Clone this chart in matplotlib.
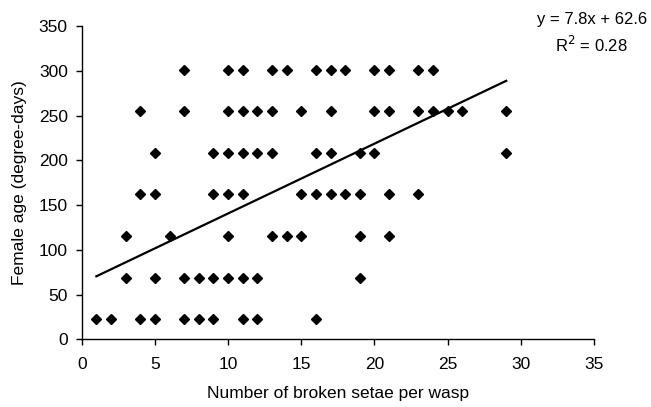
import matplotlib
matplotlib.use("Agg")
import matplotlib.pyplot as plt
import numpy as np

plt.rcParams['font.family'] = ['Liberation Sans', 'DejaVu Sans']

# Age levels (degree-days)
age_301 = [7, 10, 11, 13, 14, 16, 17, 18, 20, 21, 23, 24]
age_255 = [4, 7, 10, 11, 12, 13, 15, 17, 20, 21, 23, 24, 25, 26, 29]
age_208 = [5, 9, 10, 11, 12, 13, 16, 17, 19, 20, 29]
age_162 = [4, 5, 9, 10, 11, 15, 16, 17, 18, 19, 21, 23]
age_115 = [3, 6, 10, 13, 14, 15, 19, 21]
age_69 = [3, 5, 7, 8, 9, 10, 11, 12, 19]
age_23 = [1, 2, 4, 5, 7, 8, 9, 11, 12, 16]

levels = [301, 255, 208, 162, 115, 69, 23]
groups = [age_301, age_255, age_208, age_162, age_115, age_69, age_23]

setae = []
age = []
for lvl, xs in zip(levels, groups):
    setae += xs
    age += [lvl] * len(xs)

slope = 7.8
intercept = 62.6
r2 = 0.28
fit_range = [1, 29]

xticks = [0, 5, 10, 15, 20, 25, 30, 35]
yticks = [0, 50, 100, 150, 200, 250, 300, 350]

fig = plt.figure(figsize=(6.51, 4.07), dpi=100)
ax = fig.add_axes([0.1255, 0.1663, 0.787, 0.7697])

ax.plot(setae, age, linestyle='none', marker='D', markersize=5.0,
        color='black', zorder=3)
fx = np.array(fit_range, dtype=float)
ax.plot(fx, slope * fx + intercept, color='black', linewidth=1.6, zorder=2)

ax.set_xlim(0, 35)
ax.set_ylim(0, 350)
ax.set_xticks(xticks)
ax.set_yticks(yticks)
for s in ['top', 'right']:
    ax.spines[s].set_visible(False)
for s in ['left', 'bottom']:
    ax.spines[s].set_linewidth(1.0)
ax.tick_params(axis='both', direction='out', length=4, width=1.0,
               labelsize=12.5, colors='black')
ax.tick_params(axis='x', pad=9)
ax.tick_params(axis='y', pad=6)
ax.set_xlabel('Number of broken setae per wasp', fontsize=12.5)
ax.set_ylabel('Female age (degree-days)', fontsize=12.5)
ax.xaxis.set_label_coords(0.5, -0.172)
ax.xaxis.label.set_verticalalignment('center')
ax.yaxis.set_label_coords(-0.121, 0.5)
ax.yaxis.label.set_verticalalignment('center')

fig.text(0.909, 0.951, 'y = 7.8x + 62.6', ha='center', va='center', fontsize=12)
fig.text(0.909, 0.889, 'R$^2$ = 0.28', ha='center', va='center', fontsize=12)

fig.savefig('out.png', dpi=100)
